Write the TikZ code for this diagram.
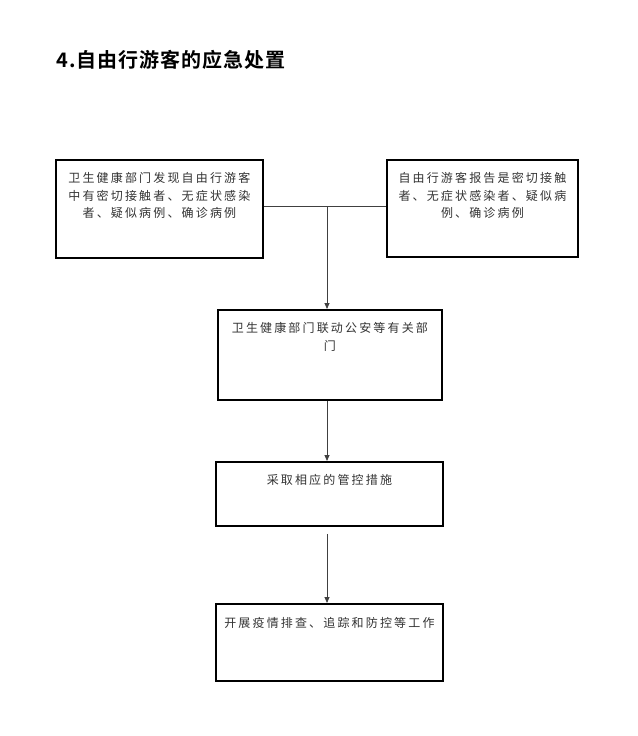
\documentclass[tikz,border=0pt]{standalone}
\usepackage{fontspec}
\newfontfamily\cjkbold[LetterSpace=5]{Noto Sans CJK SC Bold}
\newfontfamily\cjkbox[LetterSpace=18]{Noto Sans CJK SC}
\usetikzlibrary{arrows.meta}
\begin{document}
\begin{tikzpicture}[x=1pt,y=-1pt,
  box/.style={draw=black,line width=1.8pt,anchor=north west,inner sep=0pt},
  boxtext/.style={anchor=north,align=center,inner sep=0pt,font=\cjkbox\fontsize{12}{17.6}\selectfont,text=black!80},
  conn/.style={draw=black!75,line width=0.8pt},
  arr/.style={conn,-{Triangle[length=6pt,width=5pt]}}]
\useasboundingbox (0,0) rectangle (637,736);
\fill[white] (0,0) rectangle (637,736);
\node[anchor=west,inner sep=0pt,font=\cjkbold\fontsize{20}{24}\selectfont] (title) at (56,60) {4.自由行游客的应急处置};
\node[box,minimum width=207pt,minimum height=98pt] (b1) at (55,159) {};
\node[box,minimum width=191pt,minimum height=97pt] (b2) at (386,159) {};
\node[box,minimum width=224pt,minimum height=90pt] (b3) at (217,309) {};
\node[box,minimum width=227pt,minimum height=64pt] (b4) at (215,461) {};
\node[box,minimum width=227pt,minimum height=77pt] (b5) at (215,603) {};
\node[boxtext] (t1) at ([yshift=-13pt]b1.north) {卫生健康部门发现自由行游客\\中有密切接触者、无症状感染\\者、疑似病例、确诊病例};
\node[boxtext] (t2) at ([yshift=-13pt]b2.north) {自由行游客报告是密切接触\\者、无症状感染者、疑似病\\例、确诊病例};
\node[boxtext] (t3) at ([yshift=-13pt]b3.north) {卫生健康部门联动公安等有关部\\门};
\node[boxtext] (t4) at ([yshift=-13pt]b4.north) {采取相应的管控措施};
\node[boxtext] (t5) at ([yshift=-14pt]b5.north) {开展疫情排查、追踪和防控等工作};
\coordinate (j) at (327,206);
\draw[conn] (b1.east |- j) -- (b2.west |- j);
\draw[arr] (j) -- (j |- b3.north);
\draw[arr] (b3.south -| j) -- (j |- b4.north);
\draw[arr] ([yshift=-7pt]b4.south -| j) -- (j |- b5.north);
\end{tikzpicture}
\end{document}
